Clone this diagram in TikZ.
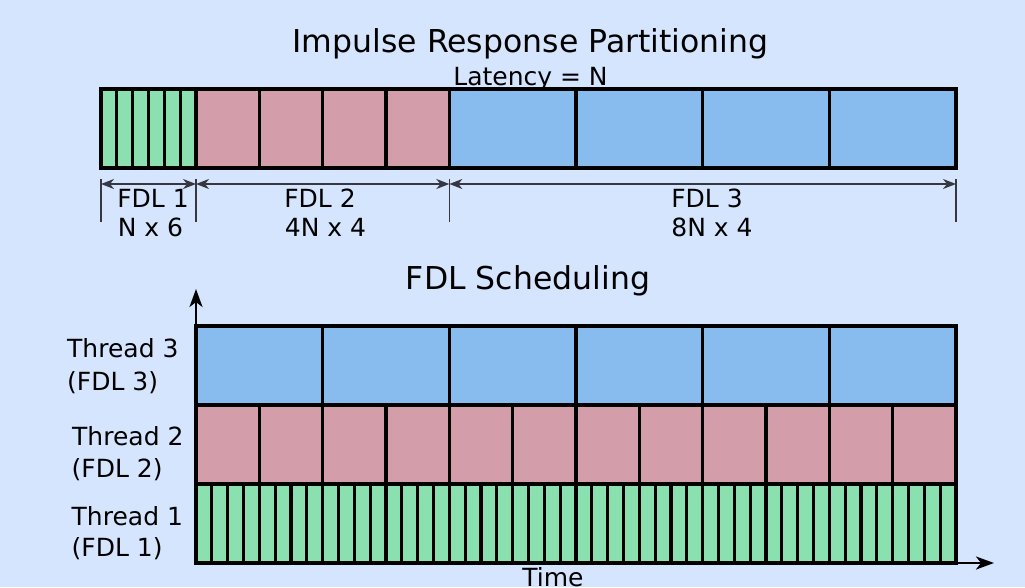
\documentclass[tikz,border=0pt]{standalone}
\usepackage{fontspec}
\setmainfont{DejaVu Sans}
\usetikzlibrary{arrows.meta}
\definecolor{bg}{RGB}{213,229,253}
\definecolor{cgreen}{RGB}{138,224,174}
\definecolor{cpink}{RGB}{211,157,170}
\definecolor{cblue}{RGB}{136,187,238}
\definecolor{dim}{RGB}{55,55,65}
\tikzset{
  cell/.style={draw=black,line width=3.2pt},
  outline/.style={draw=black,line width=3.8pt},
  dimline/.style={draw=dim,line width=1.5pt,{Stealth[length=13pt,width=10pt,inset=4pt]}-{Stealth[length=13pt,width=10pt,inset=4pt]}},
  tick/.style={draw=dim,line width=1.5pt},
  axis/.style={draw=black,line width=2.6pt,-{Stealth[length=18pt,width=13pt,inset=5pt]}},
  lbl/.style={inner sep=0pt,anchor=base,font=\fontsize{25}{30}\selectfont},
  title/.style={inner sep=0pt,anchor=base,font=\fontsize{31.5}{36}\selectfont},
  rowlbl/.style={inner sep=0pt,anchor=base west,font=\fontsize{25}{30}\selectfont},
}
\begin{document}
\begin{tikzpicture}[x=1pt,y=-1pt]
\useasboundingbox[fill=bg] (0,0) rectangle (1025,587);
% ---------- top partition bar ----------
\def\N{15.8333}
\foreach \i in {0,...,5}
  \path[cell,fill=cgreen] ({101+\i*\N},89) rectangle ({101+(\i+1)*\N},168);
\foreach \i in {0,...,3}
  \path[cell,fill=cpink] ({196+\i*4*\N},89) rectangle ({196+(\i+1)*4*\N},168);
\foreach \i in {0,...,3}
  \path[cell,fill=cblue] ({449.33+\i*8*\N},89) rectangle ({449.33+(\i+1)*8*\N},168);
\path[outline] (101,89) rectangle (956,168);
\node[title] (t1) at (530.5,52.3) {Impulse Response Partitioning};
\node[lbl] (lat) at (530.5,85) {Latency = N};
% dimension lines
\coordinate (d0) at (101,184);
\coordinate (d1) at (196,184);
\coordinate (d2) at (449.33,184);
\coordinate (d3) at (956,184);
\draw[tick] (101,179) -- (101,222);
\draw[tick] (196,179) -- (196,222);
\draw[tick] (449.33,179) -- (449.33,222);
\draw[tick] (956,179) -- (956,222);
\draw[dimline] (d0) -- (d1);
\draw[dimline] (d1) -- (d2);
\draw[dimline] (d2) -- (d3);
\node[lbl] (f1) at (153,207.7) {FDL 1};
\node[lbl] (f1b) at (150.5,236.7) {N x 6};
\node[lbl] (f2) at (320,207.7) {FDL 2};
\node[lbl] (f2b) at (325.5,236.7) {4N x 4};
\node[lbl] (f3) at (707,207.7) {FDL 3};
\node[lbl] (f3b) at (712,236.7) {8N x 4};
% ---------- scheduling ----------
\node[title] (t2) at (528,289) {FDL Scheduling};
\foreach \i in {0,...,5}
  \path[cell,fill=cblue] ({196+\i*8*\N},326) rectangle ({196+(\i+1)*8*\N},405);
\foreach \i in {0,...,11}
  \path[cell,fill=cpink] ({196+\i*4*\N},405) rectangle ({196+(\i+1)*4*\N},484);
\foreach \i in {0,...,47}
  \path[cell,fill=cgreen] ({196+\i*\N},484) rectangle ({196+(\i+1)*\N},563);
\path[outline] (196,326) rectangle (956,563);
\coordinate (o) at (196,563);
\coordinate (ytip) at (196,289);
\coordinate (xtip) at (994,563);
\draw[axis] (o) -- (ytip);
\draw[axis] (o) -- (xtip);
\node[lbl] (time) at (553,586) {Time};
\node[rowlbl] (th3) at (67,357) {Thread 3};
\node[rowlbl] (th3b) at (67,390) {(FDL 3)};
\node[rowlbl] (th2) at (72,445) {Thread 2};
\node[rowlbl] (th2b) at (71.5,477) {(FDL 2)};
\node[rowlbl] (th1) at (71.5,525) {Thread 1};
\node[rowlbl] (th1b) at (71.5,556) {(FDL 1)};
\end{tikzpicture}
\end{document}
